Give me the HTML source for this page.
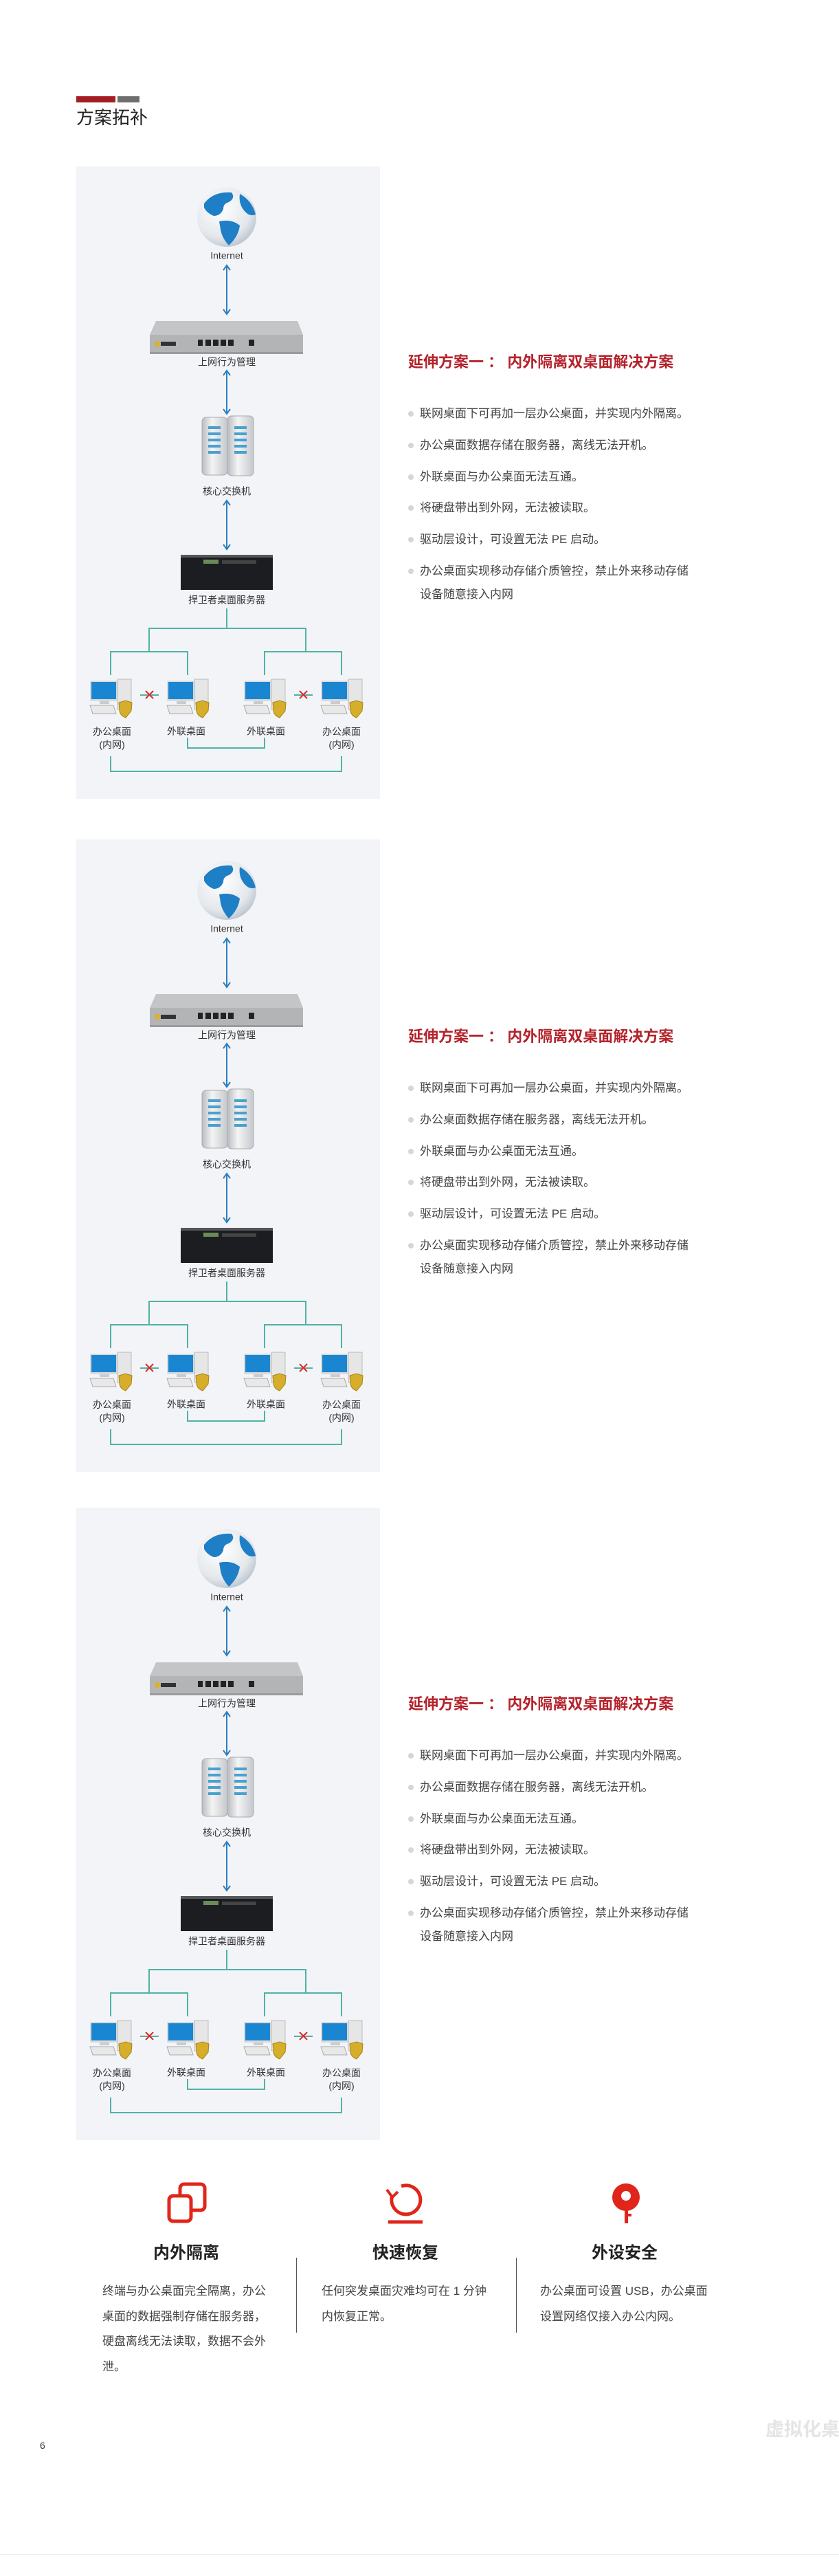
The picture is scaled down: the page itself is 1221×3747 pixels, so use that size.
<!DOCTYPE html>
<html><head><meta charset="utf-8">
<style>
*{margin:0;padding:0;box-sizing:border-box}
body{width:1221px;height:3747px;background:#fff;position:relative;overflow:hidden;font-family:"Liberation Sans","Noto Sans CJK SC",sans-serif;color:#333}
.abs{position:absolute}
.panel{position:absolute;left:111px;width:442px;height:920px;background:#f3f4f8}
.panel svg{position:absolute;left:0;top:0}
.lbl{position:absolute;font-size:14px;color:#333;text-align:center;white-space:nowrap;transform:translate(-50%,-50%);line-height:19px}
.rt{position:absolute;left:594px}
.rt h2{position:absolute;left:0;font-size:22px;color:#b4232b;font-weight:bold;white-space:nowrap;transform:translateY(-50%)}
.rt .b{position:absolute;left:0;font-size:17px;color:#444;white-space:nowrap;line-height:34px;padding-left:17px}
.rt .b:before{content:"";position:absolute;left:0;top:13px;width:8px;height:8px;border-radius:50%;background:#d6d6d6}
.feat h3{position:absolute;font-size:24px;font-weight:bold;color:#222;transform:translate(-50%,-50%);white-space:nowrap}
.feat p{position:absolute;font-size:17px;color:#444;line-height:36.5px;width:250px}
</style></head><body>

<div class="abs" style="left:111px;top:140px;width:57px;height:9px;background:#a51d24"></div>
<div class="abs" style="left:171px;top:140px;width:32px;height:9px;background:#6e6e6e"></div>
<div class="abs" style="left:111px;top:157px;font-size:26px;color:#222;line-height:28px">方案拓补</div>

<svg width="0" height="0" style="position:absolute">
<defs>
<radialGradient id="gl" cx="0.4" cy="0.35" r="0.7"><stop offset="0" stop-color="#ffffff"/><stop offset="0.7" stop-color="#e4e8ec"/><stop offset="1" stop-color="#b8c2cc"/></radialGradient>
<linearGradient id="tw" x1="0" x2="1"><stop offset="0" stop-color="#b9bcc0"/><stop offset="0.4" stop-color="#f4f4f4"/><stop offset="1" stop-color="#c5c8cc"/></linearGradient>
<g id="pc">
<rect x="-30" y="4" width="40" height="30" fill="#d8dadc" rx="2"/>
<rect x="-28" y="6" width="36" height="25" fill="#1a86d2"/>
<rect x="10" y="2" width="20" height="44" fill="#e6e6e6" stroke="#bbb" stroke-width="1"/>
<rect x="-16" y="34" width="14" height="4" fill="#ccc"/>
<polygon points="-30,40 4,40 8,52 -26,52" fill="#e8e8e8" stroke="#aaa" stroke-width="1"/>
<path d="M12 36 L22 33 L31 36 L30 48 Q22 58 22 58 Q14 55 13 48 Z" fill="#d6ae2a" stroke="#a68418" stroke-width="1"/>
</g>
<g id="diag">
<circle cx="219" cy="74" r="43" fill="url(#gl)"/>
<path d="M186 54 Q200 36 226 38 Q232 46 222 52 Q214 54 214 62 Q210 72 200 72 Q190 68 186 60 Z" fill="#1f7fc6"/>
<path d="M208 80 Q226 76 238 86 Q236 102 222 115 Q212 104 210 92 Z" fill="#1f7fc6"/>
<path d="M238 40 Q256 50 261 70 Q252 74 244 64 Q236 54 238 40 Z" fill="#1f7fc6"/>
<g stroke="#2a7fbf" stroke-width="2" fill="none">
<line x1="219" y1="146" x2="219" y2="213"/><polyline points="214,151 219,144 224,151"/><polyline points="214,208 219,215 224,208"/>
<line x1="219" y1="299" x2="219" y2="358"/><polyline points="214,304 219,297 224,304"/><polyline points="214,353 219,360 224,353"/>
<line x1="219" y1="488" x2="219" y2="555"/><polyline points="214,493 219,486 224,493"/><polyline points="214,550 219,557 224,550"/>
</g>
<polygon points="116,225 322,225 330,245 107,245" fill="#c4c5c7"/>
<rect x="107" y="245" width="223" height="28" fill="#b3b4b6"/>
<rect x="107" y="270" width="223" height="3" fill="#9a9b9d"/>
<rect x="115" y="254" width="6" height="8" fill="#e0b020"/>
<rect x="123" y="255" width="22" height="6" fill="#333"/>
<rect x="177" y="252" width="7" height="9" fill="#222"/>
<rect x="188" y="252" width="8" height="9" fill="#222"/><rect x="199" y="252" width="8" height="9" fill="#222"/><rect x="210" y="252" width="8" height="9" fill="#222"/><rect x="221" y="252" width="8" height="9" fill="#222"/>
<rect x="251" y="252" width="8" height="9" fill="#222"/>
<rect x="183" y="365" width="37" height="84" rx="6" fill="url(#tw)" stroke="#a8abb0"/>
<rect x="220" y="363" width="38" height="87" rx="6" fill="url(#tw)" stroke="#a8abb0"/>
<g fill="#4aa0d0"><rect x="192" y="378" width="18" height="4"/><rect x="192" y="387" width="18" height="4"/><rect x="192" y="396" width="18" height="4"/><rect x="192" y="405" width="18" height="4"/><rect x="192" y="414" width="18" height="4"/>
<rect x="230" y="378" width="18" height="4"/><rect x="230" y="387" width="18" height="4"/><rect x="230" y="396" width="18" height="4"/><rect x="230" y="405" width="18" height="4"/><rect x="230" y="414" width="18" height="4"/></g>
<rect x="152" y="565" width="134" height="51" fill="#1c1d20"/>
<rect x="152" y="565" width="134" height="4" fill="#55575b"/>
<rect x="185" y="572" width="22" height="6" fill="#6a8a5a"/>
<rect x="212" y="573" width="50" height="5" fill="#444"/>
<g stroke="#4fb3a5" stroke-width="2" fill="none">
<line x1="219" y1="643" x2="219" y2="672"/>
<polyline points="106,706 106,672 334,672 334,706"/>
<polyline points="50,740 50,706 162,706 162,740"/>
<polyline points="274,740 274,706 386,706 386,740"/>
<polyline points="162,831 162,846 274,846 274,831"/>
<polyline points="50,858 50,880 386,880 386,858"/>
<line x1="93" y1="769" x2="120" y2="769"/>
<line x1="317" y1="769" x2="344" y2="769"/>
</g>
<g stroke="#e02a2a" stroke-width="2"><line x1="101" y1="763" x2="112" y2="774"/><line x1="112" y1="763" x2="101" y2="774"/>
<line x1="325" y1="763" x2="336" y2="774"/><line x1="336" y1="763" x2="325" y2="774"/></g>
<use href="#pc" x="50" y="744"/><use href="#pc" x="162" y="744"/><use href="#pc" x="274" y="744"/><use href="#pc" x="386" y="744"/>
</g>
</defs>
</svg>

<div class="panel" style="top:242px">
<svg width="442" height="920" viewBox="0 0 442 920"><use href="#diag"/></svg>
<div class="lbl" style="left:219px;top:130px">Internet</div>
<div class="lbl" style="left:219px;top:285px">上网行为管理</div>
<div class="lbl" style="left:219px;top:473px">核心交换机</div>
<div class="lbl" style="left:219px;top:631px">捍卫者桌面服务器</div>
<div class="lbl" style="left:52px;top:832px">办公桌面<br>(内网)</div>
<div class="lbl" style="left:160px;top:822px">外联桌面</div>
<div class="lbl" style="left:276px;top:822px">外联桌面</div>
<div class="lbl" style="left:386px;top:832px">办公桌面<br>(内网)</div>
</div>
<div class="rt" style="top:525px">
<h2 style="top:0">延伸方案一 ： 内外隔离双桌面解决方案</h2>
<div class="b" style="top:60px">联网桌面下可再加一层办公桌面，并实现内外隔离。</div>
<div class="b" style="top:106px">办公桌面数据存储在服务器，离线无法开机。</div>
<div class="b" style="top:152px">外联桌面与办公桌面无法互通。</div>
<div class="b" style="top:197px">将硬盘带出到外网，无法被读取。</div>
<div class="b" style="top:243px">驱动层设计，可设置无法 PE 启动。</div>
<div class="b" style="top:289px">办公桌面实现移动存储介质管控，禁止外来移动存储<br>设备随意接入内网</div>
</div>

<div class="panel" style="top:1221px">
<svg width="442" height="920" viewBox="0 0 442 920"><use href="#diag"/></svg>
<div class="lbl" style="left:219px;top:130px">Internet</div>
<div class="lbl" style="left:219px;top:285px">上网行为管理</div>
<div class="lbl" style="left:219px;top:473px">核心交换机</div>
<div class="lbl" style="left:219px;top:631px">捍卫者桌面服务器</div>
<div class="lbl" style="left:52px;top:832px">办公桌面<br>(内网)</div>
<div class="lbl" style="left:160px;top:822px">外联桌面</div>
<div class="lbl" style="left:276px;top:822px">外联桌面</div>
<div class="lbl" style="left:386px;top:832px">办公桌面<br>(内网)</div>
</div>
<div class="rt" style="top:1506px">
<h2 style="top:0">延伸方案一 ： 内外隔离双桌面解决方案</h2>
<div class="b" style="top:60px">联网桌面下可再加一层办公桌面，并实现内外隔离。</div>
<div class="b" style="top:106px">办公桌面数据存储在服务器，离线无法开机。</div>
<div class="b" style="top:152px">外联桌面与办公桌面无法互通。</div>
<div class="b" style="top:197px">将硬盘带出到外网，无法被读取。</div>
<div class="b" style="top:243px">驱动层设计，可设置无法 PE 启动。</div>
<div class="b" style="top:289px">办公桌面实现移动存储介质管控，禁止外来移动存储<br>设备随意接入内网</div>
</div>

<div class="panel" style="top:2193px">
<svg width="442" height="920" viewBox="0 0 442 920"><use href="#diag"/></svg>
<div class="lbl" style="left:219px;top:130px">Internet</div>
<div class="lbl" style="left:219px;top:285px">上网行为管理</div>
<div class="lbl" style="left:219px;top:473px">核心交换机</div>
<div class="lbl" style="left:219px;top:631px">捍卫者桌面服务器</div>
<div class="lbl" style="left:52px;top:832px">办公桌面<br>(内网)</div>
<div class="lbl" style="left:160px;top:822px">外联桌面</div>
<div class="lbl" style="left:276px;top:822px">外联桌面</div>
<div class="lbl" style="left:386px;top:832px">办公桌面<br>(内网)</div>
</div>
<div class="rt" style="top:2477px">
<h2 style="top:0">延伸方案一 ： 内外隔离双桌面解决方案</h2>
<div class="b" style="top:60px">联网桌面下可再加一层办公桌面，并实现内外隔离。</div>
<div class="b" style="top:106px">办公桌面数据存储在服务器，离线无法开机。</div>
<div class="b" style="top:152px">外联桌面与办公桌面无法互通。</div>
<div class="b" style="top:197px">将硬盘带出到外网，无法被读取。</div>
<div class="b" style="top:243px">驱动层设计，可设置无法 PE 启动。</div>
<div class="b" style="top:289px">办公桌面实现移动存储介质管控，禁止外来移动存储<br>设备随意接入内网</div>
</div>

<svg class="abs" style="left:0;top:3160px" width="1221" height="90">
<g fill="none" stroke="#e0251b" stroke-width="5" stroke-linejoin="round">
<rect x="262" y="17" width="36" height="38" rx="6"/>
<rect x="246" y="34" width="32" height="37" rx="6" fill="#fff"/>
<path d="M571 33 A21 21 0 1 0 584 20"/>
<line x1="565" y1="72" x2="615" y2="72"/>
</g>
<polyline points="563,25 571,36 579,28" fill="none" stroke="#e0251b" stroke-width="4"/>
<circle cx="911" cy="36" r="20" fill="#e0251b"/>
<circle cx="911" cy="34" r="7" fill="#fff"/>
<rect x="909" y="50" width="5" height="24" fill="#e0251b"/>
<rect x="911" y="60" width="8" height="4" fill="#e0251b"/>
</svg>
<div class="feat">
<h3 style="left:271px;top:3274px">内外隔离</h3>
<h3 style="left:590px;top:3274px">快速恢复</h3>
<h3 style="left:909px;top:3274px">外设安全</h3>
<p style="left:149px;top:3315px">终端与办公桌面完全隔离，办公桌面的数据强制存储在服务器，硬盘离线无法读取，数据不会外泄。</p>
<p style="left:468px;top:3315px">任何突发桌面灾难均可在 1 分钟内恢复正常。</p>
<p style="left:786px;top:3315px">办公桌面可设置 USB，办公桌面设置网络仅接入办公内网。</p>
</div>
<div class="abs" style="left:431px;top:3284px;width:1px;height:109px;background:#555"></div>
<div class="abs" style="left:751px;top:3284px;width:1px;height:109px;background:#555"></div>

<div class="abs" style="left:58px;top:3549px;font-size:14px;color:#333">6</div>
<div class="abs" style="left:1114px;top:3512px;font-size:27px;color:#e4e4e6;font-weight:bold;white-space:nowrap">虚拟化桌面</div>
<div class="abs" style="left:0;top:3715px;width:1221px;height:1px;background:#eeeeee"></div>
</body></html>
